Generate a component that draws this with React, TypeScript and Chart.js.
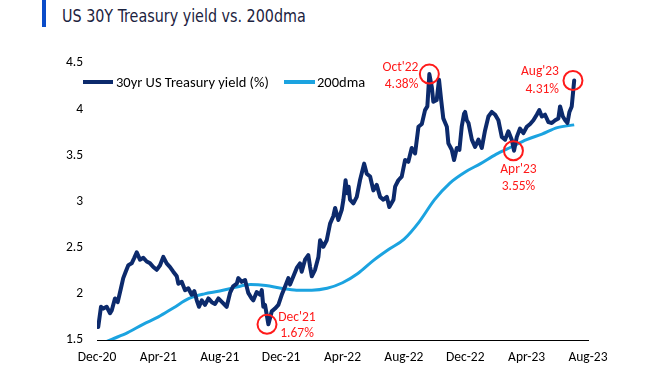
import React, { useEffect, useRef } from 'react';
import { Chart, registerables } from 'chart.js';

Chart.register(...registerables);

// ---------- data ----------
const xTickLabels = ['Dec-20', 'Apr-21', 'Aug-21', 'Dec-21', 'Apr-22', 'Aug-22', 'Dec-22', 'Apr-23', 'Aug-23'];

// months since start of Dec-2020
const yieldMonths = [
  0.08, 0.26, 0.41, 0.63, 0.85, 0.96, 1.17, 1.35, 1.56, 1.71, 1.87, 2.04, 2.26, 2.43, 2.59, 2.8, 3.02, 3.24, 3.46, 3.67,
  3.89, 4.11, 4.32, 4.54, 4.76, 4.97, 5.2, 5.3, 5.52, 5.74, 5.95, 6.17, 6.34, 6.5, 6.65, 6.83, 7.04, 7.26, 7.48, 7.69,
  7.91, 8.15, 8.45, 8.67, 8.87, 9.11, 9.21, 9.43, 9.65, 9.86, 10.08, 10.19, 10.41, 10.63, 10.74, 10.84, 10.95, 11.17,
  11.39, 11.6, 11.82, 12.04, 12.26, 12.47, 12.58, 12.8, 13.02, 13.23, 13.34, 13.56, 13.77, 13.89, 14.0, 14.21, 14.43,
  14.54, 14.75, 14.97, 15.19, 15.4, 15.52, 15.73, 15.95, 16.06, 16.2, 16.3, 16.4, 16.49, 16.71, 16.93, 17.14, 17.41,
  17.58, 17.8, 18.01, 18.23, 18.45, 18.66, 18.89, 19.05, 19.32, 19.43, 19.64, 19.86, 20.08, 20.29, 20.51, 20.73, 20.95,
  21.17, 21.38, 21.53, 21.66, 21.82, 21.92, 22.14, 22.29, 22.43, 22.57, 22.8, 22.9, 23.12, 23.27, 23.45, 23.62, 23.77,
  23.92, 23.99, 24.1, 24.21, 24.43, 24.64, 24.86, 25.08, 25.29, 25.51, 25.73, 25.95, 26.16, 26.38, 26.6, 26.81, 27.03,
  27.18, 27.36, 27.57, 27.79, 28.01, 28.23, 28.44, 28.66, 28.83, 28.99, 29.2, 29.42, 29.64, 29.86, 30.07, 30.18, 30.36,
  30.51, 30.66, 30.79, 30.94, 31.1,
];
const yieldValues = [
  1.64, 1.86, 1.84, 1.86, 1.79, 1.82, 1.95, 1.91, 2.06, 2.17, 2.24, 2.31, 2.33, 2.39, 2.45, 2.37, 2.39, 2.35, 2.33, 2.29,
  2.26, 2.31, 2.4, 2.33, 2.29, 2.24, 2.19, 2.11, 2.13, 2.04, 2.06, 1.99, 2.03, 1.93, 1.86, 1.93, 1.88, 1.95, 1.91, 1.89,
  1.95, 1.91, 1.86, 2.01, 2.08, 2.11, 2.17, 2.13, 2.15, 2.01, 1.95, 1.93, 2.02, 1.99, 2.04, 1.86, 1.88, 1.67,
  1.81, 1.84, 1.88, 1.99, 2.08, 2.17, 2.1, 2.19, 2.28, 2.33, 2.24, 2.37, 2.42, 2.29, 2.19, 2.26, 2.4,
  2.58, 2.51, 2.58, 2.76, 2.84, 2.93, 2.8, 2.91, 3.02, 3.23, 3.09, 3.16, 3.02, 2.98, 3.05, 3.23, 3.41,
  3.3, 3.27, 3.12, 3.18, 3.05, 3.02, 3.05, 2.94, 3.02, 3.16, 3.23, 3.27, 3.45, 3.43, 3.58, 3.52, 3.81,
  3.84, 3.99, 4.03, 4.38, 4.24, 4.08, 4.1, 4.32, 4.1, 3.9, 3.81, 3.63, 3.56, 3.45, 3.58, 3.56, 3.81,
  3.95, 3.97, 3.88, 3.85, 3.67, 3.59, 3.67, 3.58, 3.77, 3.92, 3.97, 3.94, 3.88, 3.7, 3.67, 3.76, 3.67,
  3.55, 3.7, 3.79, 3.74, 3.81, 3.84, 3.88, 3.94, 3.99, 3.92, 3.94, 3.86, 3.85, 3.88, 3.9, 4.03, 3.92,
  3.88, 3.85, 3.97, 4.03, 4.31,
];

const dmaMonths = [0, 1, 2, 3, 4, 5, 6, 7, 8, 9, 10, 11, 12, 13, 14, 15, 16, 17, 18, 19, 20, 21, 22, 23, 24, 25, 26, 27, 28, 29, 30, 31.1];
const dmaValues = [
  1.44, 1.51, 1.58, 1.67, 1.75, 1.85, 1.95, 2.0, 2.03, 2.07, 2.1, 2.09, 2.06, 2.04, 2.04, 2.06, 2.12, 2.22, 2.36, 2.48,
  2.59, 2.78, 3.02, 3.2, 3.32, 3.41, 3.51, 3.59, 3.67, 3.73, 3.8, 3.83,
];

const annotMonths = [21.66, 31.02, 27.14, 11.08];
const annotValues = [4.38, 4.31, 3.55, 1.67];
const annotDates = ["Oct'22", "Aug'23", "Apr'23", "Dec'21"];
const annotTexts = ['4.38%', '4.31%', '3.55%', '1.67%'];

// ---------- styling ----------
const NAVY = '#0c2a6c';
const SKY = '#1ba3e0';
const RED = '#ff1a1a';
const FONT = 'Carlito, Calibri, Lato, "Open Sans", sans-serif';

const annotPlacement = [
  { dx: -11, dy1: -6, dy2: 11, align: 'right' },
  { dx: -14, dy1: -9, dy2: 9, align: 'right' },
  { dx: 5, dy1: 19, dy2: 36, align: 'center' },
  { dx: 30, dy1: -7, dy2: 9, align: 'center' },
];

const annotPlugin = {
  id: 'annots',
  afterDatasetsDraw(chart: any) {
    const { ctx, scales } = chart;
    ctx.save();
    annotMonths.forEach((m, i) => {
      const cx = scales.x.getPixelForValue(m);
      const cy = scales.y.getPixelForValue(annotValues[i]);
      ctx.beginPath();
      ctx.arc(cx, cy, 9.5, 0, Math.PI * 2);
      ctx.strokeStyle = RED;
      ctx.lineWidth = 2;
      ctx.stroke();
      const p = annotPlacement[i];
      ctx.fillStyle = RED;
      ctx.font = `13.5px ${FONT}`;
      ctx.textAlign = p.align as CanvasTextAlign;
      ctx.textBaseline = 'middle';
      ctx.fillText(annotDates[i], cx + p.dx, cy + p.dy1);
      ctx.fillText(annotTexts[i], cx + p.dx, cy + p.dy2);
    });
    ctx.restore();
  },
};

export default function App() {
  const ref = useRef<HTMLCanvasElement | null>(null);

  useEffect(() => {
    document.body.style.margin = '0';
    if (!ref.current) return;
    const chart = new Chart(ref.current, {
      type: 'line',
      data: {
        datasets: [
          {
            label: '30yr US Treasury yield (%)',
            data: yieldMonths.map((m, i) => ({ x: m, y: yieldValues[i] })),
            borderColor: NAVY,
            backgroundColor: NAVY,
            borderWidth: 4,
            pointRadius: 0,
            tension: 0,
            borderJoinStyle: 'round',
            borderCapStyle: 'round',
            order: 1,
          },
          {
            label: '200dma',
            data: dmaMonths.map((m, i) => ({ x: m, y: dmaValues[i] })),
            borderColor: SKY,
            backgroundColor: SKY,
            borderWidth: 3,
            pointRadius: 0,
            tension: 0.4,
            cubicInterpolationMode: 'monotone',
            clip: 0,
            order: 2,
          },
        ],
      },
      options: {
        animation: false,
        responsive: false,
        devicePixelRatio: 1,
        layout: { padding: { top: 63, right: 70, left: 0, bottom: 0 } },
        plugins: { legend: { display: false }, tooltip: { enabled: false } },
        scales: {
          x: {
            type: 'linear',
            min: 0,
            max: 32,
            afterBuildTicks: (axis: any) => {
              axis.ticks = xTickLabels.map((_, i) => ({ value: i * 4 }));
            },
            afterFit: (s: any) => {
              s.height = 35;
            },
            ticks: {
              autoSkip: false,
              maxRotation: 0,
              padding: 10,
              color: '#000',
              font: { family: FONT, size: 13.5 },
              callback: (v: any) => xTickLabels[Math.round(Number(v) / 4)],
            },
            grid: { display: false, drawTicks: false },
            border: { display: true, color: '#000', width: 1 },
          },
          y: {
            min: 1.5,
            max: 4.5,
            afterFit: (s: any) => {
              s.width = 97;
            },
            ticks: {
              stepSize: 0.5,
              padding: 14,
              color: '#000',
              font: { family: FONT, size: 13.5 },
              callback: (v: any) => String(Number(v)),
            },
            grid: { display: false, drawTicks: false },
            border: { display: false },
          },
        },
      },
      plugins: [annotPlugin],
    });
    return () => chart.destroy();
  }, []);

  const legendText: React.CSSProperties = {
    position: 'absolute',
    top: 73,
    fontFamily: FONT,
    fontSize: 14.5,
    lineHeight: '18px',
    color: '#000',
    whiteSpace: 'nowrap',
  };

  return (
    <div style={{ position: 'fixed', left: 0, top: 0, width: 658, height: 375, background: '#fff', overflow: 'hidden' }}>
      <div style={{ position: 'absolute', left: 42, top: 0, width: 4, height: 27, background: '#0a4cc9' }} />
      <div
        style={{
          position: 'absolute',
          left: 62,
          top: 6,
          fontFamily: '"Liberation Sans Narrow", "Arial Narrow", "DejaVu Sans Condensed", sans-serif',
          fontSize: 17.5,
          lineHeight: '20px',
          color: '#1c2340',
          whiteSpace: 'nowrap',
          transform: 'scaleX(0.91)',
          transformOrigin: 'left center',
        }}
      >
        US 30Y Treasury yield vs. 200dma
      </div>
      <canvas ref={ref} width={658} height={375} style={{ position: 'absolute', left: 0, top: 0, width: 658, height: 375 }} />
      <div style={{ position: 'absolute', left: 83, top: 80, width: 30, height: 3.5, background: NAVY }} />
      <div style={{ ...legendText, left: 116 }}>30yr US Treasury yield (%)</div>
      <div style={{ position: 'absolute', left: 284, top: 80, width: 31, height: 3.5, background: SKY }} />
      <div style={{ ...legendText, left: 317 }}>200dma</div>
    </div>
  );
}
